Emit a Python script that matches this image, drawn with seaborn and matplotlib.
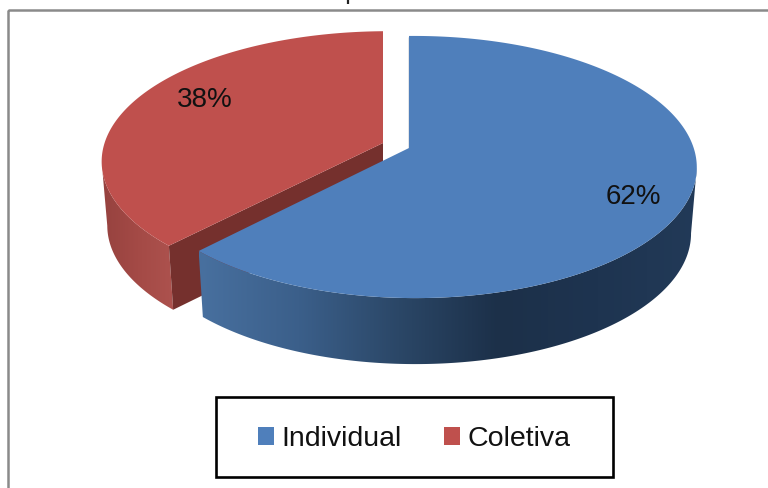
import numpy as np
import matplotlib
matplotlib.use("Agg")
import matplotlib.pyplot as plt
from matplotlib.colors import LinearSegmentedColormap
from matplotlib.patches import Patch, Polygon, Rectangle
import seaborn as sns

# Data
categories = ["Individual", "Coletiva"]
shares = [62, 38]
top_colors = ["#4f7fbb", "#bf504d"]
inner_wall_color = "#75302d"
blue_wall_stops = ["#48709f", "#3b5f8a", "#2b4767", "#1c3049", "#1e3450", "#223a58"]
red_wall_stops = ["#ad524e", "#a44a46", "#96423f"]

W, H = 768, 488
sns.set_theme(style="white")
plt.rcParams["font.family"] = ["Liberation Sans", "DejaVu Sans"]

fig = plt.figure(figsize=(W / 100, H / 100), dpi=100)
ax = fig.add_axes([0, 0, 1, 1])
ax.set_xlim(0, W)
ax.set_ylim(H, 0)
ax.axis("off")


def ring(theta_deg, x0, y0, a, b, k=0.145, j=-0.02):
    """Project points of a tilted unit circle; theta runs clockwise from the top."""
    t = np.radians(theta_deg)
    u, v = np.sin(t), np.cos(t)
    d = 1 + k * v + j * u
    return x0 + a * u / d, y0 - b * v / d


def silhouette_angle(low, high, pick, apex, a, b):
    """Angle at which the rim reaches its widest point inside a range of angles."""
    th = np.linspace(low, high, 721)
    return th[pick(ring(th, *apex, a, b)[0])]


def gradient_fill(poly_xy, stops, x_from, x_to, zorder):
    cmap = LinearSegmentedColormap.from_list("wall", stops)
    poly = Polygon(poly_xy, closed=True, fc="none", ec="none", transform=ax.transData)
    ax.add_patch(poly)
    im = ax.imshow(np.linspace(0, 1, 256)[None, :], cmap=cmap, aspect="auto",
                   extent=(x_from, x_to, H, 0), zorder=zorder)
    im.set_clip_path(poly)


def wedge3d(start, end, apex, a, b, depth, shrink, wall_range, stops, color, z):
    ax_, ay = apex
    th = np.linspace(start, end, 240)
    tx, ty = ring(th, ax_, ay, a, b)

    # outer wall between the rim and the lower rim
    wth = np.linspace(*wall_range, 240)
    ox, oy = ring(wth, ax_, ay, a, b)
    lx, ly = ring(wth, ax_, ay + depth, a * shrink, b)
    wall = np.column_stack([np.r_[ox, lx[::-1]], np.r_[oy, ly[::-1]]])
    gradient_fill(wall, stops, min(wall[:, 0]), max(wall[:, 0]), z)

    top = np.column_stack([np.r_[ax_, tx], np.r_[ay, ty]])
    ax.add_patch(Polygon(top, closed=True, fc=color, ec="none", zorder=z + 1))


fractions = np.cumsum([0] + shares) / sum(shares) * 360
blue_start, blue_end = fractions[0], fractions[1]
red_start, red_end = fractions[1], fractions[2]

# Coletiva slice, pulled out to the upper left
red_apex = (383, 143)
red_a, red_b, red_depth, red_shrink = 284, 128, 64, 0.98
red_edge = silhouette_angle(red_start, red_end, np.argmin, red_apex, red_a, red_b)
wedge3d(red_start, red_end, red_apex, red_a, red_b, red_depth, red_shrink,
        (red_start, red_edge), red_wall_stops[::-1], top_colors[1], 2)

# Inner wall of the Coletiva slice, above its outer wall and below its top face
rx, ry = ring(red_start, *red_apex, red_a, red_b)
lx, ly = ring(red_start, red_apex[0], red_apex[1] + red_depth, red_a * red_shrink, red_b)
ax.add_patch(Polygon([red_apex, (rx, ry), (lx, ly), (red_apex[0], red_apex[1] + red_depth)],
                     closed=True, fc=inner_wall_color, ec="none", zorder=2.5))

# Individual slice
blue_apex = (409, 148)
blue_a, blue_b = 279, 128.3
blue_edge = silhouette_angle(blue_start, blue_end, np.argmax, blue_apex, blue_a, blue_b)
wedge3d(blue_start, blue_end, blue_apex, blue_a, blue_b, 66, 0.98,
        (blue_edge, blue_end), blue_wall_stops, top_colors[0], 5)
ax.plot([blue_apex[0], blue_apex[0]], [37, blue_apex[1]], color="#1f3650", lw=0.9, zorder=5.5)

# Value labels
ax.text(633, 197, f"{shares[0]}%", ha="center", va="center", fontsize=20, color="#111111", zorder=8)
ax.text(205, 100, f"{shares[1]}%", ha="center", va="center", fontsize=20, color="#111111", zorder=8)

# Chart frame and the stroke left at the top edge
ax.add_patch(Rectangle((8, 10), W + 20, H + 20, fc="none", ec="#8a8a8a", lw=1.8, zorder=1))
ax.plot([348, 348], [0, 4], color="#222222", lw=1.6, solid_capstyle="butt")

# Legend box
ax.add_patch(Rectangle((215.5, 397), 397.5, 80, fc="white", ec="black", lw=1.9, zorder=6))
handles = [Patch(fc=c, ec="none", label=n) for c, n in zip(top_colors, categories)]
leg = ax.legend(handles=handles, loc="center", bbox_to_anchor=(414.5 / W, 1 - 439 / H),
                ncol=2, frameon=False, fontsize=20.5, handlelength=0.56, handleheight=0.56,
                handletextpad=0.25, columnspacing=1.5, labelcolor="#111111",
                borderpad=0, borderaxespad=0)
leg.set_zorder(7)

fig.savefig("out.png", dpi=100, facecolor="white")
